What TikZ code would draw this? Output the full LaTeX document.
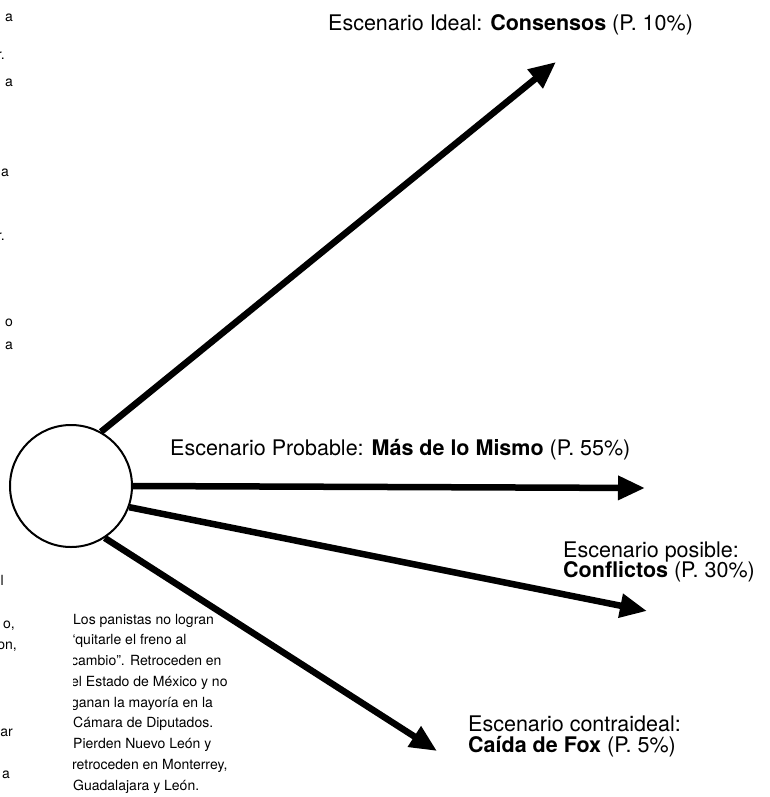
\documentclass[tikz,border=0pt]{standalone}
\usepackage{fontspec}
\setmainfont{TeX Gyre Heros}
\usetikzlibrary{arrows.meta}
\pgfdeclarelayer{bg}
\pgfsetlayers{bg,main}
\begin{document}
\begin{tikzpicture}[x=1pt,y=-1pt,
  lab/.style={font=\fontsize{21.5}{20.5}\selectfont, inner sep=0pt, anchor=base west},
  small/.style={font=\fontsize{14}{20.75}\selectfont, inner sep=0pt, anchor=base west},
  frag/.style={font=\fontsize{14}{20.75}\selectfont, inner sep=0pt, anchor=base east},
  arr/.style={line width=6.5pt, -{Triangle[length=27pt,width=23pt]}}]
\useasboundingbox (0,0) rectangle (770,797);
\clip (0,0) rectangle (770,797);
% centre circle
\node[circle, draw, line width=2pt, fill=white, minimum size=122pt, inner sep=0pt] (c) at (71,486) {};
% arrow tips
\coordinate (t1) at (556,62);
\coordinate (t2) at (645,488);
\coordinate (t3) at (647,611);
\coordinate (t4) at (437,751);
\begin{pgfonlayer}{bg}
\draw[arr] (c.61) -- (t1);
\draw[arr] (c.0) -- (t2);
\draw[arr] (c.-20) -- (t3);
\draw[arr] (c.-57) -- (t4);
\end{pgfonlayer}
% labels
\node[lab] (l1) at (328,31) {Escenario Ideal: \textbf{Consensos} (P. 10\%)};
\node[lab] (l2) at (170,455) {Escenario Probable: \textbf{Más de lo Mismo} (P. 55\%)};
\node[lab] (l3a) at (563,557) {Escenario posible:};
\node[lab] (l3b) at (563,577) {\textbf{Conflictos} (P. 30\%)};
\node[lab] (l4a) at (468,731) {Escenario contraideal:};
\node[lab] (l4b) at (468,752) {\textbf{Caída de Fox} (P. 5\%)};
% clipped left column fragments
\node[frag] (f1) at (13,22) {a};
\node[frag] (f2) at (5,60) {r.};
\node[frag] (f3) at (13,87) {a};
\node[frag] (f4) at (9,176) {a};
\node[frag] (f5) at (5,240) {r.};
\node[frag] (f6) at (13,326) {o};
\node[frag] (f7) at (13,349) {a};
\node[frag] (f8) at (4,585) {l};
\node[frag] (f9) at (15,628) {o,};
\node[frag] (f10) at (17,649) {on,};
\node[frag] (f11) at (13,736) {ar};
\node[frag] (f12) at (10,778) {a};
% bottom text block (clipped at its left edge)
\begin{scope}
\clip (73,595) rectangle (300,797);
\node[small] (b1) at (73,624) {Los panistas no logran};
\node[small] (b2) at (70.5,644.75) {“quitarle el freno al};
\node[small] (b3) at (71,665.5) {cambio”. Retroceden en};
\node[small] (b4) at (71,686.25) {el Estado de México y no};
\node[small] (b5) at (71,707) {ganan la mayoría en la};
\node[small] (b6) at (73,727.75) {Cámara de Diputados.};
\node[small] (b7) at (73,748.5) {Pierden Nuevo León y};
\node[small] (b8) at (72,769.25) {retroceden en Monterrey,};
\node[small] (b9) at (73,790) {Guadalajara y León.};
\end{scope}
\end{tikzpicture}
\end{document}
